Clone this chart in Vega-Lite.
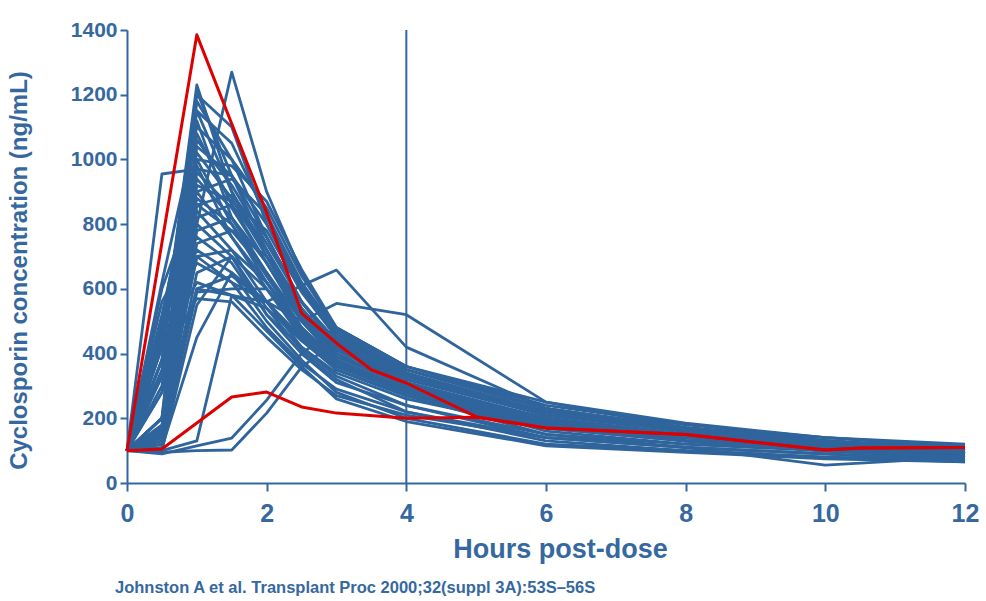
{
  "$schema": "https://vega.github.io/schema/vega-lite/v6.json",
  "autosize": {"type": "none"},
  "width": 838,
  "height": 453,
  "padding": {"left": 127, "top": 30, "right": 21, "bottom": 118},
  "background": "white",
  "title": {
    "text": "Johnston A et al. Transplant Proc 2000;32(suppl 3A):53S\u201356S",
    "orient": "bottom",
    "anchor": "start",
    "frame": "group",
    "dx": -12,
    "offset": 18,
    "font": "Liberation Sans",
    "fontSize": 16.5,
    "fontWeight": "bold",
    "color": "#3668a0",
    "baseline": "top"
  },
  "datasets": {
    "profiles": [
{"id":"S01","t":0,"c":100},{"id":"S01","t":0.5,"c":955},{"id":"S01","t":1,"c":970},{"id":"S01","t":1.5,"c":950},{"id":"S01","t":2,"c":760},{"id":"S01","t":2.5,"c":560},{"id":"S01","t":3,"c":430},{"id":"S01","t":4,"c":330},{"id":"S01","t":6,"c":220},{"id":"S01","t":8,"c":170},{"id":"S01","t":10,"c":130},{"id":"S01","t":12,"c":110},
{"id":"S02","t":0,"c":100},{"id":"S02","t":0.5,"c":420},{"id":"S02","t":1,"c":1230},{"id":"S02","t":1.5,"c":900},{"id":"S02","t":2,"c":700},{"id":"S02","t":2.5,"c":520},{"id":"S02","t":3,"c":420},{"id":"S02","t":4,"c":320},{"id":"S02","t":6,"c":210},{"id":"S02","t":8,"c":160},{"id":"S02","t":10,"c":130},{"id":"S02","t":12,"c":100},
{"id":"S03","t":0,"c":100},{"id":"S03","t":0.5,"c":380},{"id":"S03","t":1,"c":1200},{"id":"S03","t":1.5,"c":1100},{"id":"S03","t":2,"c":800},{"id":"S03","t":2.5,"c":600},{"id":"S03","t":3,"c":460},{"id":"S03","t":4,"c":350},{"id":"S03","t":6,"c":230},{"id":"S03","t":8,"c":170},{"id":"S03","t":10,"c":140},{"id":"S03","t":12,"c":115},
{"id":"S04","t":0,"c":100},{"id":"S04","t":0.5,"c":200},{"id":"S04","t":1,"c":1180},{"id":"S04","t":1.5,"c":1000},{"id":"S04","t":2,"c":850},{"id":"S04","t":2.5,"c":640},{"id":"S04","t":3,"c":480},{"id":"S04","t":4,"c":360},{"id":"S04","t":6,"c":240},{"id":"S04","t":8,"c":180},{"id":"S04","t":10,"c":140},{"id":"S04","t":12,"c":110},
{"id":"S05","t":0,"c":100},{"id":"S05","t":0.5,"c":180},{"id":"S05","t":1,"c":800},{"id":"S05","t":1.5,"c":1270},{"id":"S05","t":2,"c":900},{"id":"S05","t":2.5,"c":650},{"id":"S05","t":3,"c":470},{"id":"S05","t":4,"c":350},{"id":"S05","t":6,"c":230},{"id":"S05","t":8,"c":170},{"id":"S05","t":10,"c":130},{"id":"S05","t":12,"c":100},
{"id":"S06","t":0,"c":100},{"id":"S06","t":0.5,"c":450},{"id":"S06","t":1,"c":1150},{"id":"S06","t":1.5,"c":900},{"id":"S06","t":2,"c":720},{"id":"S06","t":2.5,"c":540},{"id":"S06","t":3,"c":420},{"id":"S06","t":4,"c":310},{"id":"S06","t":6,"c":200},{"id":"S06","t":8,"c":150},{"id":"S06","t":10,"c":120},{"id":"S06","t":12,"c":90},
{"id":"S07","t":0,"c":100},{"id":"S07","t":0.5,"c":150},{"id":"S07","t":1,"c":1040},{"id":"S07","t":1.5,"c":950},{"id":"S07","t":2,"c":800},{"id":"S07","t":2.5,"c":600},{"id":"S07","t":3,"c":450},{"id":"S07","t":4,"c":340},{"id":"S07","t":6,"c":220},{"id":"S07","t":8,"c":160},{"id":"S07","t":10,"c":130},{"id":"S07","t":12,"c":100},
{"id":"S08","t":0,"c":100},{"id":"S08","t":0.5,"c":520},{"id":"S08","t":1,"c":1020},{"id":"S08","t":1.5,"c":880},{"id":"S08","t":2,"c":700},{"id":"S08","t":2.5,"c":520},{"id":"S08","t":3,"c":400},{"id":"S08","t":4,"c":300},{"id":"S08","t":6,"c":180},{"id":"S08","t":8,"c":140},{"id":"S08","t":10,"c":110},{"id":"S08","t":12,"c":90},
{"id":"S09","t":0,"c":100},{"id":"S09","t":0.5,"c":350},{"id":"S09","t":1,"c":1000},{"id":"S09","t":1.5,"c":980},{"id":"S09","t":2,"c":870},{"id":"S09","t":2.5,"c":660},{"id":"S09","t":3,"c":480},{"id":"S09","t":4,"c":360},{"id":"S09","t":6,"c":250},{"id":"S09","t":8,"c":185},{"id":"S09","t":10,"c":140},{"id":"S09","t":12,"c":120},
{"id":"S10","t":0,"c":100},{"id":"S10","t":0.5,"c":170},{"id":"S10","t":1,"c":960},{"id":"S10","t":1.5,"c":850},{"id":"S10","t":2,"c":680},{"id":"S10","t":2.5,"c":500},{"id":"S10","t":3,"c":380},{"id":"S10","t":4,"c":290},{"id":"S10","t":6,"c":170},{"id":"S10","t":8,"c":130},{"id":"S10","t":10,"c":100},{"id":"S10","t":12,"c":80},
{"id":"S11","t":0,"c":100},{"id":"S11","t":0.5,"c":330},{"id":"S11","t":1,"c":940},{"id":"S11","t":1.5,"c":820},{"id":"S11","t":2,"c":650},{"id":"S11","t":2.5,"c":480},{"id":"S11","t":3,"c":370},{"id":"S11","t":4,"c":280},{"id":"S11","t":6,"c":160},{"id":"S11","t":8,"c":120},{"id":"S11","t":10,"c":100},{"id":"S11","t":12,"c":75},
{"id":"S12","t":0,"c":100},{"id":"S12","t":0.5,"c":140},{"id":"S12","t":1,"c":920},{"id":"S12","t":1.5,"c":870},{"id":"S12","t":2,"c":780},{"id":"S12","t":2.5,"c":590},{"id":"S12","t":3,"c":450},{"id":"S12","t":4,"c":330},{"id":"S12","t":6,"c":210},{"id":"S12","t":8,"c":160},{"id":"S12","t":10,"c":120},{"id":"S12","t":12,"c":90},
{"id":"S13","t":0,"c":100},{"id":"S13","t":0.5,"c":600},{"id":"S13","t":1,"c":900},{"id":"S13","t":1.5,"c":760},{"id":"S13","t":2,"c":600},{"id":"S13","t":2.5,"c":450},{"id":"S13","t":3,"c":350},{"id":"S13","t":4,"c":270},{"id":"S13","t":6,"c":150},{"id":"S13","t":8,"c":110},{"id":"S13","t":10,"c":90},{"id":"S13","t":12,"c":70},
{"id":"S14","t":0,"c":100},{"id":"S14","t":0.5,"c":280},{"id":"S14","t":1,"c":880},{"id":"S14","t":1.5,"c":800},{"id":"S14","t":2,"c":640},{"id":"S14","t":2.5,"c":480},{"id":"S14","t":3,"c":370},{"id":"S14","t":4,"c":280},{"id":"S14","t":6,"c":180},{"id":"S14","t":8,"c":130},{"id":"S14","t":10,"c":110},{"id":"S14","t":12,"c":80},
{"id":"S15","t":0,"c":100},{"id":"S15","t":0.5,"c":120},{"id":"S15","t":1,"c":860},{"id":"S15","t":1.5,"c":890},{"id":"S15","t":2,"c":760},{"id":"S15","t":2.5,"c":560},{"id":"S15","t":3,"c":420},{"id":"S15","t":4,"c":300},{"id":"S15","t":6,"c":190},{"id":"S15","t":8,"c":150},{"id":"S15","t":10,"c":120},{"id":"S15","t":12,"c":90},
{"id":"S16","t":0,"c":100},{"id":"S16","t":0.5,"c":480},{"id":"S16","t":1,"c":840},{"id":"S16","t":1.5,"c":720},{"id":"S16","t":2,"c":560},{"id":"S16","t":2.5,"c":420},{"id":"S16","t":3,"c":330},{"id":"S16","t":4,"c":240},{"id":"S16","t":6,"c":140},{"id":"S16","t":8,"c":110},{"id":"S16","t":10,"c":90},{"id":"S16","t":12,"c":70},
{"id":"S17","t":0,"c":100},{"id":"S17","t":0.5,"c":150},{"id":"S17","t":1,"c":820},{"id":"S17","t":1.5,"c":860},{"id":"S17","t":2,"c":720},{"id":"S17","t":2.5,"c":540},{"id":"S17","t":3,"c":410},{"id":"S17","t":4,"c":310},{"id":"S17","t":6,"c":200},{"id":"S17","t":8,"c":150},{"id":"S17","t":10,"c":120},{"id":"S17","t":12,"c":90},
{"id":"S18","t":0,"c":100},{"id":"S18","t":0.5,"c":200},{"id":"S18","t":1,"c":800},{"id":"S18","t":1.5,"c":700},{"id":"S18","t":2,"c":540},{"id":"S18","t":2.5,"c":410},{"id":"S18","t":3,"c":320},{"id":"S18","t":4,"c":220},{"id":"S18","t":6,"c":130},{"id":"S18","t":8,"c":100},{"id":"S18","t":10,"c":80},{"id":"S18","t":12,"c":70},
{"id":"S19","t":0,"c":100},{"id":"S19","t":0.5,"c":160},{"id":"S19","t":1,"c":780},{"id":"S19","t":1.5,"c":820},{"id":"S19","t":2,"c":680},{"id":"S19","t":2.5,"c":520},{"id":"S19","t":3,"c":400},{"id":"S19","t":4,"c":300},{"id":"S19","t":6,"c":190},{"id":"S19","t":8,"c":150},{"id":"S19","t":10,"c":120},{"id":"S19","t":12,"c":90},
{"id":"S20","t":0,"c":100},{"id":"S20","t":0.5,"c":560},{"id":"S20","t":1,"c":760},{"id":"S20","t":1.5,"c":680},{"id":"S20","t":2,"c":520},{"id":"S20","t":2.5,"c":400},{"id":"S20","t":3,"c":310},{"id":"S20","t":4,"c":240},{"id":"S20","t":6,"c":150},{"id":"S20","t":8,"c":120},{"id":"S20","t":10,"c":100},{"id":"S20","t":12,"c":80},
{"id":"S21","t":0,"c":100},{"id":"S21","t":0.5,"c":130},{"id":"S21","t":1,"c":740},{"id":"S21","t":1.5,"c":780},{"id":"S21","t":2,"c":650},{"id":"S21","t":2.5,"c":500},{"id":"S21","t":3,"c":390},{"id":"S21","t":4,"c":300},{"id":"S21","t":6,"c":200},{"id":"S21","t":8,"c":150},{"id":"S21","t":10,"c":120},{"id":"S21","t":12,"c":95},
{"id":"S22","t":0,"c":100},{"id":"S22","t":0.5,"c":500},{"id":"S22","t":1,"c":720},{"id":"S22","t":1.5,"c":650},{"id":"S22","t":2,"c":500},{"id":"S22","t":2.5,"c":380},{"id":"S22","t":3,"c":280},{"id":"S22","t":4,"c":200},{"id":"S22","t":6,"c":120},{"id":"S22","t":8,"c":100},{"id":"S22","t":10,"c":80},{"id":"S22","t":12,"c":65},
{"id":"S23","t":0,"c":100},{"id":"S23","t":0.5,"c":170},{"id":"S23","t":1,"c":700},{"id":"S23","t":1.5,"c":720},{"id":"S23","t":2,"c":620},{"id":"S23","t":2.5,"c":480},{"id":"S23","t":3,"c":380},{"id":"S23","t":4,"c":290},{"id":"S23","t":6,"c":190},{"id":"S23","t":8,"c":140},{"id":"S23","t":10,"c":110},{"id":"S23","t":12,"c":85},
{"id":"S24","t":0,"c":100},{"id":"S24","t":0.5,"c":470},{"id":"S24","t":1,"c":680},{"id":"S24","t":1.5,"c":620},{"id":"S24","t":2,"c":480},{"id":"S24","t":2.5,"c":370},{"id":"S24","t":3,"c":290},{"id":"S24","t":4,"c":220},{"id":"S24","t":6,"c":140},{"id":"S24","t":8,"c":110},{"id":"S24","t":10,"c":90},{"id":"S24","t":12,"c":70},
{"id":"S25","t":0,"c":100},{"id":"S25","t":0.5,"c":140},{"id":"S25","t":1,"c":650},{"id":"S25","t":1.5,"c":700},{"id":"S25","t":2,"c":600},{"id":"S25","t":2.5,"c":470},{"id":"S25","t":3,"c":370},{"id":"S25","t":4,"c":280},{"id":"S25","t":6,"c":180},{"id":"S25","t":8,"c":140},{"id":"S25","t":10,"c":110},{"id":"S25","t":12,"c":80},
{"id":"S26","t":0,"c":100},{"id":"S26","t":0.5,"c":430},{"id":"S26","t":1,"c":620},{"id":"S26","t":1.5,"c":580},{"id":"S26","t":2,"c":470},{"id":"S26","t":2.5,"c":360},{"id":"S26","t":3,"c":260},{"id":"S26","t":4,"c":190},{"id":"S26","t":6,"c":115},{"id":"S26","t":8,"c":95},{"id":"S26","t":10,"c":75},{"id":"S26","t":12,"c":65},
{"id":"S27","t":0,"c":100},{"id":"S27","t":0.5,"c":150},{"id":"S27","t":1,"c":600},{"id":"S27","t":1.5,"c":640},{"id":"S27","t":2,"c":560},{"id":"S27","t":2.5,"c":440},{"id":"S27","t":3,"c":350},{"id":"S27","t":4,"c":270},{"id":"S27","t":6,"c":180},{"id":"S27","t":8,"c":130},{"id":"S27","t":10,"c":100},{"id":"S27","t":12,"c":80},
{"id":"S28","t":0,"c":100},{"id":"S28","t":0.5,"c":120},{"id":"S28","t":1,"c":590},{"id":"S28","t":1.5,"c":600},{"id":"S28","t":2,"c":600},{"id":"S28","t":2.5,"c":480},{"id":"S28","t":3,"c":380},{"id":"S28","t":4,"c":290},{"id":"S28","t":6,"c":190},{"id":"S28","t":8,"c":140},{"id":"S28","t":10,"c":110},{"id":"S28","t":12,"c":80},
{"id":"S29","t":0,"c":100},{"id":"S29","t":0.5,"c":380},{"id":"S29","t":1,"c":570},{"id":"S29","t":1.5,"c":560},{"id":"S29","t":2,"c":450},{"id":"S29","t":2.5,"c":350},{"id":"S29","t":3,"c":270},{"id":"S29","t":4,"c":210},{"id":"S29","t":6,"c":140},{"id":"S29","t":8,"c":110},{"id":"S29","t":10,"c":55},{"id":"S29","t":12,"c":80},
{"id":"S30","t":0,"c":100},{"id":"S30","t":0.5,"c":100},{"id":"S30","t":1,"c":550},{"id":"S30","t":1.5,"c":700},{"id":"S30","t":2,"c":520},{"id":"S30","t":2.5,"c":420},{"id":"S30","t":3,"c":340},{"id":"S30","t":4,"c":260},{"id":"S30","t":6,"c":170},{"id":"S30","t":8,"c":130},{"id":"S30","t":10,"c":100},{"id":"S30","t":12,"c":80},
{"id":"S31","t":0,"c":100},{"id":"S31","t":0.5,"c":110},{"id":"S31","t":1,"c":450},{"id":"S31","t":1.5,"c":650},{"id":"S31","t":2,"c":560},{"id":"S31","t":2.5,"c":450},{"id":"S31","t":3,"c":360},{"id":"S31","t":4,"c":280},{"id":"S31","t":6,"c":190},{"id":"S31","t":8,"c":140},{"id":"S31","t":10,"c":110},{"id":"S31","t":12,"c":80},
{"id":"S32","t":0,"c":100},{"id":"S32","t":0.5,"c":90},{"id":"S32","t":1,"c":115},{"id":"S32","t":1.5,"c":139},{"id":"S32","t":2,"c":256},{"id":"S32","t":2.5,"c":400},{"id":"S32","t":3,"c":480},{"id":"S32","t":4,"c":360},{"id":"S32","t":6,"c":230},{"id":"S32","t":8,"c":160},{"id":"S32","t":10,"c":120},{"id":"S32","t":12,"c":90},
{"id":"S33","t":0,"c":100},{"id":"S33","t":0.5,"c":95},{"id":"S33","t":1,"c":100},{"id":"S33","t":1.5,"c":102},{"id":"S33","t":2,"c":216},{"id":"S33","t":2.5,"c":358},{"id":"S33","t":3,"c":440},{"id":"S33","t":4,"c":340},{"id":"S33","t":6,"c":220},{"id":"S33","t":8,"c":160},{"id":"S33","t":10,"c":120},{"id":"S33","t":12,"c":90},
{"id":"S34","t":0,"c":100},{"id":"S34","t":0.5,"c":100},{"id":"S34","t":1,"c":130},{"id":"S34","t":1.5,"c":580},{"id":"S34","t":2,"c":540},{"id":"S34","t":2.5,"c":440},{"id":"S34","t":3,"c":360},{"id":"S34","t":4,"c":280},{"id":"S34","t":6,"c":180},{"id":"S34","t":8,"c":130},{"id":"S34","t":10,"c":100},{"id":"S34","t":12,"c":80},
{"id":"S35","t":0,"c":100},{"id":"S35","t":0.5,"c":200},{"id":"S35","t":1,"c":600},{"id":"S35","t":1.5,"c":580},{"id":"S35","t":2,"c":560},{"id":"S35","t":2.5,"c":610},{"id":"S35","t":3,"c":658},{"id":"S35","t":4,"c":420},{"id":"S35","t":6,"c":230},{"id":"S35","t":8,"c":170},{"id":"S35","t":10,"c":130},{"id":"S35","t":12,"c":100},
{"id":"S36","t":0,"c":100},{"id":"S36","t":0.5,"c":200},{"id":"S36","t":1,"c":700},{"id":"S36","t":1.5,"c":620},{"id":"S36","t":2,"c":560},{"id":"S36","t":2.5,"c":500},{"id":"S36","t":3,"c":555},{"id":"S36","t":4,"c":520},{"id":"S36","t":6,"c":250},{"id":"S36","t":8,"c":170},{"id":"S36","t":10,"c":130},{"id":"S36","t":12,"c":100},
{"id":"S37","t":0,"c":100},{"id":"S37","t":0.5,"c":620},{"id":"S37","t":1,"c":1100},{"id":"S37","t":1.5,"c":1000},{"id":"S37","t":2,"c":760},{"id":"S37","t":2.5,"c":560},{"id":"S37","t":3,"c":430},{"id":"S37","t":4,"c":320},{"id":"S37","t":6,"c":210},{"id":"S37","t":8,"c":160},{"id":"S37","t":10,"c":120},{"id":"S37","t":12,"c":90},
{"id":"S38","t":0,"c":100},{"id":"S38","t":0.5,"c":200},{"id":"S38","t":1,"c":1060},{"id":"S38","t":1.5,"c":920},{"id":"S38","t":2,"c":740},{"id":"S38","t":2.5,"c":560},{"id":"S38","t":3,"c":430},{"id":"S38","t":4,"c":330},{"id":"S38","t":6,"c":220},{"id":"S38","t":8,"c":160},{"id":"S38","t":10,"c":130},{"id":"S38","t":12,"c":100},
{"id":"S39","t":0,"c":100},{"id":"S39","t":0.5,"c":160},{"id":"S39","t":1,"c":980},{"id":"S39","t":1.5,"c":760},{"id":"S39","t":2,"c":620},{"id":"S39","t":2.5,"c":470},{"id":"S39","t":3,"c":360},{"id":"S39","t":4,"c":280},{"id":"S39","t":6,"c":190},{"id":"S39","t":8,"c":140},{"id":"S39","t":10,"c":110},{"id":"S39","t":12,"c":90},
{"id":"S40","t":0,"c":100},{"id":"S40","t":0.5,"c":300},{"id":"S40","t":1,"c":1120},{"id":"S40","t":1.5,"c":820},{"id":"S40","t":2,"c":640},{"id":"S40","t":2.5,"c":480},{"id":"S40","t":3,"c":370},{"id":"S40","t":4,"c":290},{"id":"S40","t":6,"c":190},{"id":"S40","t":8,"c":150},{"id":"S40","t":10,"c":120},{"id":"S40","t":12,"c":90},
{"id":"S41","t":0,"c":100},{"id":"S41","t":0.5,"c":420},{"id":"S41","t":1,"c":1210},{"id":"S41","t":1.5,"c":950},{"id":"S41","t":2,"c":720},{"id":"S41","t":2.5,"c":530},{"id":"S41","t":3,"c":410},{"id":"S41","t":4,"c":310},{"id":"S41","t":6,"c":200},{"id":"S41","t":8,"c":150},{"id":"S41","t":10,"c":120},{"id":"S41","t":12,"c":90},
{"id":"S42","t":0,"c":100},{"id":"S42","t":0.5,"c":380},{"id":"S42","t":1,"c":1150},{"id":"S42","t":1.5,"c":1050},{"id":"S42","t":2,"c":820},{"id":"S42","t":2.5,"c":610},{"id":"S42","t":3,"c":460},{"id":"S42","t":4,"c":340},{"id":"S42","t":6,"c":220},{"id":"S42","t":8,"c":160},{"id":"S42","t":10,"c":125},{"id":"S42","t":12,"c":95},
{"id":"S43","t":0,"c":100},{"id":"S43","t":0.5,"c":500},{"id":"S43","t":1,"c":1080},{"id":"S43","t":1.5,"c":860},{"id":"S43","t":2,"c":680},{"id":"S43","t":2.5,"c":510},{"id":"S43","t":3,"c":390},{"id":"S43","t":4,"c":300},{"id":"S43","t":6,"c":200},{"id":"S43","t":8,"c":150},{"id":"S43","t":10,"c":120},{"id":"S43","t":12,"c":90},
{"id":"S44","t":0,"c":100},{"id":"S44","t":0.5,"c":330},{"id":"S44","t":1,"c":900},{"id":"S44","t":1.5,"c":940},{"id":"S44","t":2,"c":830},{"id":"S44","t":2.5,"c":620},{"id":"S44","t":3,"c":470},{"id":"S44","t":4,"c":350},{"id":"S44","t":6,"c":230},{"id":"S44","t":8,"c":170},{"id":"S44","t":10,"c":130},{"id":"S44","t":12,"c":100},
{"id":"S45","t":0,"c":100},{"id":"S45","t":0.5,"c":450},{"id":"S45","t":1,"c":1000},{"id":"S45","t":1.5,"c":800},{"id":"S45","t":2,"c":620},{"id":"S45","t":2.5,"c":460},{"id":"S45","t":3,"c":350},{"id":"S45","t":4,"c":270},{"id":"S45","t":6,"c":170},{"id":"S45","t":8,"c":130},{"id":"S45","t":10,"c":100},{"id":"S45","t":12,"c":80},
{"id":"S46","t":0,"c":100},{"id":"S46","t":0.5,"c":280},{"id":"S46","t":1,"c":860},{"id":"S46","t":1.5,"c":780},{"id":"S46","t":2,"c":700},{"id":"S46","t":2.5,"c":560},{"id":"S46","t":3,"c":440},{"id":"S46","t":4,"c":330},{"id":"S46","t":6,"c":210},{"id":"S46","t":8,"c":160},{"id":"S46","t":10,"c":120},{"id":"S46","t":12,"c":90}
    ],
    "highlight": [
{"id":"R1","t":0,"c":100},{"id":"R1","t":1,"c":1385},{"id":"R1","t":2,"c":835},{"id":"R1","t":2.5,"c":525},{"id":"R1","t":3,"c":432},{"id":"R1","t":3.5,"c":350},{"id":"R1","t":4,"c":309},{"id":"R1","t":5,"c":205},{"id":"R1","t":6,"c":170},{"id":"R1","t":8,"c":150},{"id":"R1","t":10,"c":102},{"id":"R1","t":10.5,"c":108},{"id":"R1","t":12,"c":110},
{"id":"R2","t":0,"c":100},{"id":"R2","t":0.5,"c":105},{"id":"R2","t":1.5,"c":266},{"id":"R2","t":2,"c":281},{"id":"R2","t":2.5,"c":235},{"id":"R2","t":3,"c":216},{"id":"R2","t":4,"c":200},{"id":"R2","t":5,"c":203},{"id":"R2","t":6,"c":170},{"id":"R2","t":8,"c":150},{"id":"R2","t":10,"c":102},{"id":"R2","t":10.5,"c":108},{"id":"R2","t":12,"c":110}
    ],
    "marker": [{"t": 4}]
  },
  "config": {
    "view": {"stroke": null},
    "axis": {
      "grid": false,
      "domainColor": "#3566a0",
      "domainWidth": 2,
      "tickColor": "#3566a0",
      "tickWidth": 2,
      "labelFont": "Liberation Sans",
      "labelFontWeight": "bold",
      "labelColor": "#3668a0",
      "labelFlush": false,
      "titleFont": "Liberation Sans",
      "titleFontWeight": "bold",
      "titleColor": "#3668a0"
    }
  },
  "layer": [
    {
      "data": {"name": "marker"},
      "mark": {"type": "rule", "color": "#3566a0", "strokeWidth": 2},
      "encoding": {
        "x": {"field": "t", "type": "quantitative", "scale": {"domain": [0, 12], "nice": false}}
      }
    },
    {
      "data": {"name": "profiles"},
      "mark": {"type": "line", "color": "#2f659c", "strokeWidth": 2.8, "strokeJoin": "round"},
      "encoding": {
        "x": {
          "field": "t", "type": "quantitative",
          "scale": {"domain": [0, 12], "nice": false},
          "axis": {
            "values": [0, 2, 4, 6, 8, 10, 12],
            "format": "d",
            "tickSize": 8,
            "labelFontSize": 25,
            "labelPadding": 10,
            "title": "Hours post-dose",
            "titleFontSize": 27,
            "titleX": 433,
            "titleY": 74,
            "titleBaseline": "alphabetic"
          }
        },
        "y": {
          "field": "c", "type": "quantitative",
          "scale": {"domain": [0, 1400], "nice": false},
          "axis": {
            "values": [0, 200, 400, 600, 800, 1000, 1200, 1400],
            "format": "d",
            "tickSize": 7,
            "labelFontSize": 21,
            "labelPadding": 3,
            "title": "Cyclosporin concentration (ng/mL)",
            "titleFontSize": 24,
            "titleX": -96,
            "titleY": 240,
            "titleBaseline": "bottom"
          }
        },
        "detail": {"field": "id"}
      }
    },
    {
      "data": {"name": "highlight"},
      "mark": {"type": "line", "color": "#dd0000", "strokeWidth": 3, "strokeJoin": "round"},
      "encoding": {
        "x": {"field": "t", "type": "quantitative"},
        "y": {"field": "c", "type": "quantitative"},
        "detail": {"field": "id"}
      }
    }
  ]
}
